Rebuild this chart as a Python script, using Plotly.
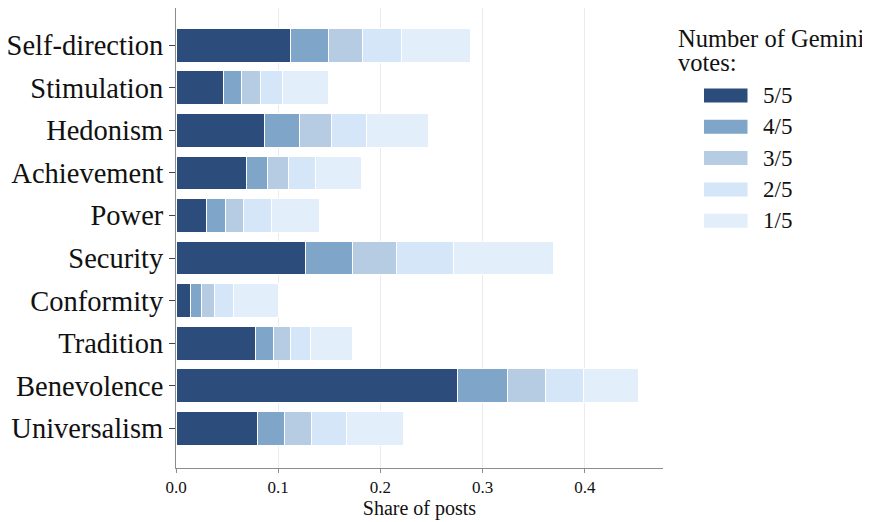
import plotly.graph_objects as go

categories = ["Self-direction", "Stimulation", "Hedonism", "Achievement", "Power",
              "Security", "Conformity", "Tradition", "Benevolence", "Universalism"]

vote_labels = ["5/5", "4/5", "3/5", "2/5", "1/5"]

votes_5 = [0.1124, 0.0465, 0.0866, 0.0690, 0.0299, 0.1264, 0.0146, 0.0778, 0.2755, 0.0798]
votes_4 = [0.0366, 0.0176, 0.0343, 0.0209, 0.0182, 0.0467, 0.0104, 0.0176, 0.0492, 0.0267]
votes_3 = [0.0335, 0.0186, 0.0313, 0.0199, 0.0179, 0.0427, 0.0130, 0.0163, 0.0369, 0.0265]
votes_2 = [0.0382, 0.0212, 0.0342, 0.0267, 0.0272, 0.0558, 0.0186, 0.0199, 0.0368, 0.0339]
votes_1 = [0.0672, 0.0450, 0.0610, 0.0447, 0.0469, 0.0974, 0.0440, 0.0408, 0.0545, 0.0554]

series = [votes_5, votes_4, votes_3, votes_2, votes_1]
colors = ["#2c4c7c", "#7fa6c9", "#b5cce3", "#d4e6f7", "#e2eefa"]

FONT = "Liberation Serif"
# the page body adds an 8px offset, so the figure is sized/laid out for that
OFF = 8
W, H = 870 - OFF, 522 - OFF
ML, MR, MT, MB = 168, 207, 0, 54

fig = go.Figure()
for vals, name, col in zip(series, vote_labels, colors):
    fig.add_trace(go.Bar(
        x=vals, y=categories, orientation="h", name=name,
        marker=dict(color=col, line=dict(color="white", width=1)),
        showlegend=False,
    ))

# custom legend (swatches + labels) in paper coordinates
pw = W - ML - MR
ph = H - MT - MB
def px_x(px):
    return (px - OFF - ML) / pw
def px_y(py):
    return 1 - (py - OFF - MT) / ph

shapes = []
annotations = []
annotations.append(dict(text="Number of Gemini", x=px_x(676), y=px_y(39), xref="paper", yref="paper",
                        xanchor="left", yanchor="middle", showarrow=False,
                        font=dict(family=FONT, size=24.5, color="#111")))
annotations.append(dict(text="votes:", x=px_x(676), y=px_y(62.5), xref="paper", yref="paper",
                        xanchor="left", yanchor="middle", showarrow=False,
                        font=dict(family=FONT, size=24.5, color="#111")))
for i, (name, col) in enumerate(zip(vote_labels, colors)):
    cy = 95.5 + i * 31.3
    shapes.append(dict(type="rect", xref="paper", yref="paper",
                       x0=px_x(704), x1=px_x(747.5), y0=px_y(cy - 7), y1=px_y(cy + 7),
                       fillcolor=col, line=dict(width=0)))
    annotations.append(dict(text=name, x=px_x(761), y=px_y(cy), xref="paper", yref="paper",
                            xanchor="left", yanchor="middle", showarrow=False,
                            font=dict(family=FONT, size=23, color="#111")))

fig.update_layout(
    width=W, height=H,
    margin=dict(l=ML, r=MR, t=MT, b=MB, pad=0, autoexpand=False),
    barmode="stack", bargap=0.207,
    plot_bgcolor="white", paper_bgcolor="white",
    font=dict(family=FONT, color="#111"),
    shapes=shapes, annotations=annotations,
    xaxis=dict(
        range=[0, 0.4765], tickvals=[0, 0.1, 0.2, 0.3, 0.4],
        ticktext=["0.0", "0.1", "0.2", "0.3", "0.4"],
        showgrid=True, gridcolor="#ebebeb", gridwidth=1, zeroline=False,
        showline=True, linecolor="#8c8c8c", linewidth=1,
        ticks="outside", ticklen=4, tickcolor="#8c8c8c",
        tickfont=dict(family=FONT, size=17, color="#111"),
        title=dict(text="Share of posts", font=dict(family=FONT, size=20, color="#111"), standoff=4),
        automargin=False,
    ),
    yaxis=dict(
        type="category", categoryorder="array", categoryarray=categories,
        range=[9.934, -0.875],
        showgrid=False, zeroline=False,
        showline=True, linecolor="#8c8c8c", linewidth=1,
        ticks="outside", ticklen=6, tickcolor="#444",
        tickfont=dict(family=FONT, size=28.5, color="#111"),
        automargin=False,
    ),
)

fig.write_html("out.html")
